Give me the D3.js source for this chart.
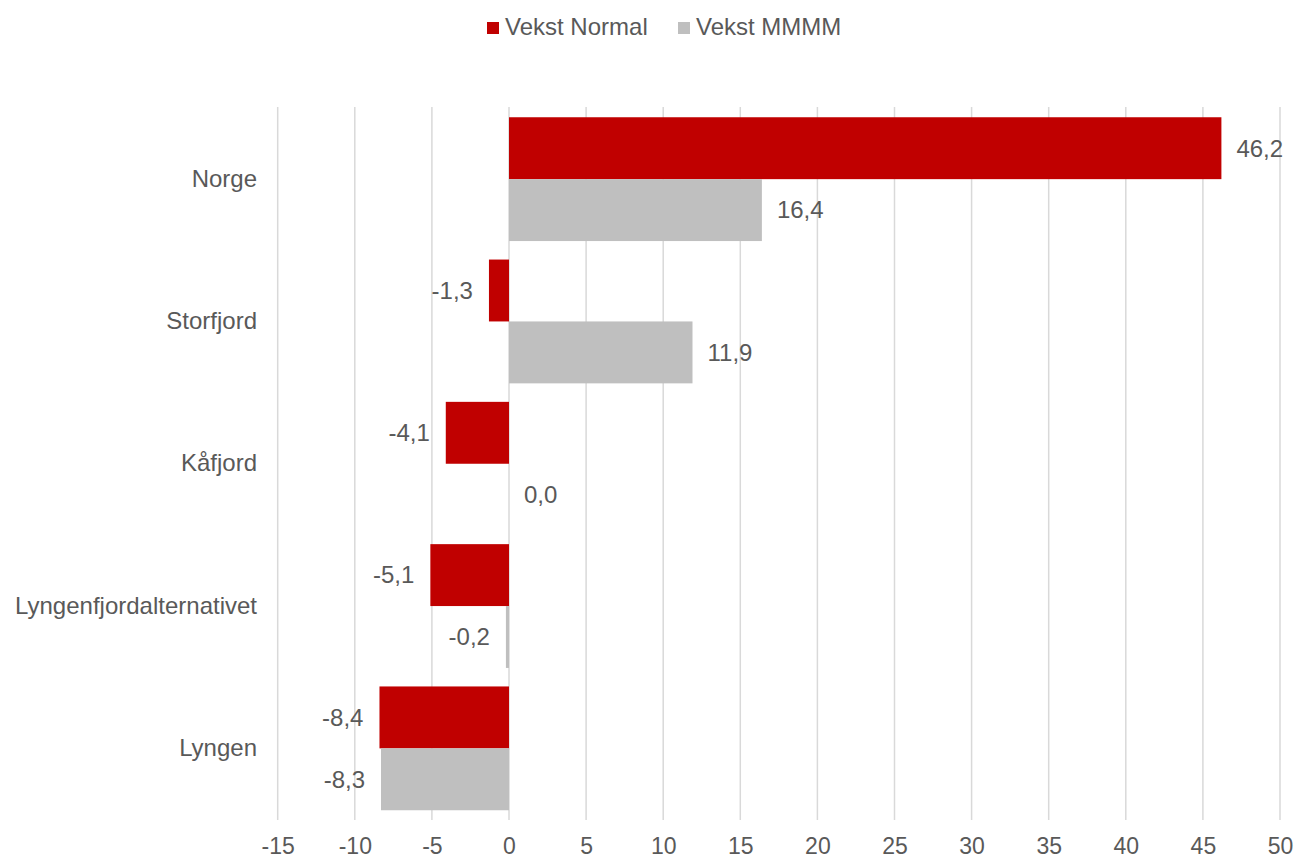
<!DOCTYPE html>
<html><head><meta charset="utf-8">
<script src="https://cdn.jsdelivr.net/npm/d3@7"></script>
<style>body{margin:0;background:#fff;} svg{display:block;font-family:"Liberation Sans",Arial,sans-serif;}</style>
</head><body>
<svg id="chart" width="1295" height="859"></svg>
<script>
const categories = ["Norge","Storfjord","Kåfjord","Lyngenfjordalternativet","Lyngen"];
const seriesNames = ["Vekst Normal","Vekst MMMM"];
const vekstNormal = [46.2,-1.3,-4.1,-5.1,-8.4];
const vekstMMMM = [16.4,11.9,0.0,-0.2,-8.3];
const tickValues = [-15,-10,-5,0,5,10,15,20,25,30,35,40,45,50];
const colors = ["#c00000","#bfbfbf"];

const svg = d3.select("#chart");
const textColor = "#595959";
const fs = 24;

const x = d3.scaleLinear().domain([-15,50]).range([277.7,1280]);
const y0 = d3.scaleBand().domain(categories).range([108,819.5]).paddingInner(0.13).paddingOuter(0.065);
const y1 = d3.scaleBand().domain(seriesNames).range([0,y0.bandwidth()]);

// gridlines
svg.append("g").selectAll("line").data(tickValues).join("line")
  .attr("x1",d=>x(d)).attr("x2",d=>x(d)).attr("y1",107).attr("y2",820)
  .attr("stroke","#d9d9d9").attr("stroke-width",1.5);

// x axis labels
const xAxis = d3.axisBottom(x).tickValues(tickValues).tickSize(0).tickPadding(0).tickFormat(d=>String(d));
const gx = svg.append("g").attr("transform","translate(0,0)").call(xAxis);
gx.select(".domain").remove();
gx.selectAll("text").attr("fill",textColor).style("font-size","23px").attr("dy",null).attr("y",854);

// category labels
const yAxis = d3.axisLeft(y0).tickSize(0).tickPadding(0);
const gy = svg.append("g").attr("transform","translate(257,0)").call(yAxis);
gy.select(".domain").remove();
gy.selectAll("text").attr("fill",textColor).style("font-size",fs+"px");

const data = categories.map((c,i)=>({cat:c, vals:[{s:seriesNames[0],v:vekstNormal[i],c:colors[0]},{s:seriesNames[1],v:vekstMMMM[i],c:colors[1]}]}));
const fmt = v => v.toFixed(1).replace(".",",");

const groups = svg.append("g").selectAll("g").data(data).join("g")
  .attr("transform",d=>`translate(0,${y0(d.cat)})`);
groups.selectAll("rect").data(d=>d.vals).join("rect")
  .attr("x",d=>x(Math.min(0,d.v))).attr("width",d=>Math.abs(x(d.v)-x(0)))
  .attr("y",d=>y1(d.s)).attr("height",y1.bandwidth())
  .attr("fill",d=>d.c);
groups.selectAll("text").data(d=>d.vals).join("text")
  .attr("x",d=>d.v>=0 ? x(d.v)+15 : x(d.v)-16)
  .attr("y",d=>y1(d.s)+y1.bandwidth()/2)
  .attr("dy","0.35em")
  .attr("text-anchor",d=>d.v>=0?"start":"end")
  .attr("fill",textColor).style("font-size",fs+"px")
  .text(d=>fmt(d.v));

// legend
const legend = svg.append("g");
const legX = [487,678];
seriesNames.forEach((s,i)=>{
  legend.append("rect").attr("x",legX[i]).attr("y",22).attr("width",12).attr("height",12).attr("fill",colors[i]);
  legend.append("text").attr("x",legX[i]+18).attr("y",27).attr("dy","0.35em").attr("fill",textColor).style("font-size",fs+"px").text(s);
});
</script>
</body></html>
